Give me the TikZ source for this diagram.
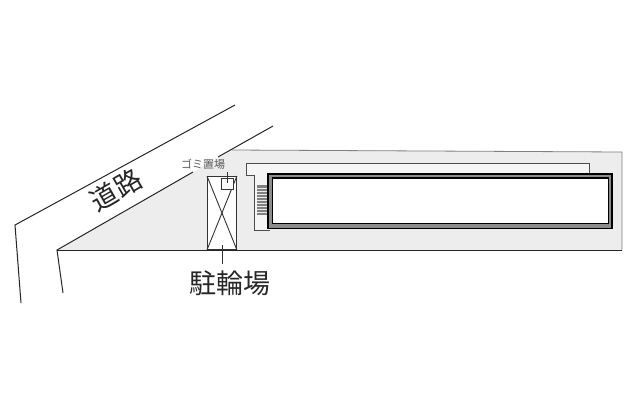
\documentclass[tikz,border=0pt]{standalone}
\usepackage{fontspec}
\newfontfamily\cjk{Noto Sans CJK JP}
\tikzset{
  thinline/.style={draw=black!80,line width=0.9pt},
  road/.style={draw=black!85,line width=1pt},
  lab/.style={font=\cjk,inner sep=0pt,text=black!85},
}
\begin{document}
\begin{tikzpicture}[x=1pt,y=-1pt]
\useasboundingbox (0,0) rectangle (640,400);
\fill[white] (0,0) rectangle (640,400);
% site
\fill[black!7] (57,250) -- (232,150) -- (622,152) -- (622,250) -- cycle;
\draw[draw=black!50,line width=0.8pt] (232,150) -- (622,152) -- (622,250);
\draw[road] (57,250) -- (622,250);
% road
\draw[road] (21,303) -- (15,225) -- (235,105);
\draw[road] (63,293) -- (57,250) -- (193,172);
\draw[road] (218,157) -- (273,126);
% parapet outline
\fill[black!4] (246,163) -- (589,163) -- (589,175) -- (270,175) -- (270,230) -- (254,230) -- (254,175) -- (246,175) -- cycle;
\draw[draw=black!70,line width=0.8pt] (270,230) -- (254,230) -- (254,175) -- (246,175) -- (246,163) -- (589,163) -- (589,174);
% stairs
\fill[black!50] (257,185) rectangle (267,215);
\foreach \y in {188,191,...,214} \draw[black!8,line width=0.7pt] (257,\y) -- (267,\y);
% building
\fill[black!45] (268,174) rectangle (612,228.5);
\draw[black,line width=1.5pt] (268,174) rectangle (612,228.5);
\draw[black,line width=1.5pt] (272.5,178) rectangle (608,223.5);
\fill[white] (273,178.5) rectangle (607.5,223);
% label
\node[lab,font=\cjk\fontsize{11}{11}\selectfont,text=black!65] (gomi) at (203,164) {ゴミ置場};
% bicycle parking
\node[draw=black!80,line width=0.9pt,fill=white,minimum width=29pt,minimum height=73pt,inner sep=0pt,anchor=north west] (bike) at (207,176) {};
\draw[thinline] (bike.north west) -- (bike.south east);
\draw[thinline] (bike.north east) -- (bike.south west);
\node[draw=black!80,line width=0.9pt,fill=white,minimum width=12pt,minimum height=11pt,inner sep=0pt,anchor=north west] (gomibox) at (221,178) {};
\coordinate (g1) at (227,172);
\coordinate (g2) at (227,183);
\draw[thinline,line width=0.7pt] (g1) -- (g2);
% labels
\node[lab,font=\cjk\fontsize{27}{27}\selectfont] (park) at (230,283) {駐輪場};
\coordinate (p1) at (222.5,245);
\coordinate (p2) at (222.5,264);
\draw[thinline,line width=0.7pt] (p1) -- (p2);
\node[lab,font=\cjk\fontsize{27}{27}\selectfont,rotate=30] (doro) at (116,190) {道路};
\end{tikzpicture}
\end{document}
